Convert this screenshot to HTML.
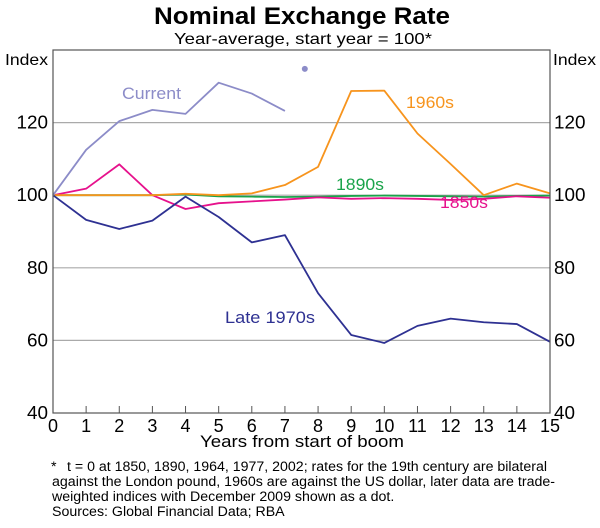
<!DOCTYPE html>
<html><head><meta charset="utf-8"><style>
body{margin:0;background:#fff;}
svg{display:block;font-family:"Liberation Sans",Arial,sans-serif;}
</style></head><body>
<svg id="c" width="600" height="528" viewBox="0 0 600 528">
<text x="154" y="24" font-size="24" font-weight="bold" textLength="296" lengthAdjust="spacingAndGlyphs">Nominal Exchange Rate</text>
<text x="174" y="44" font-size="16" textLength="258" lengthAdjust="spacingAndGlyphs">Year-average, start year = 100*</text>
<text x="5" y="65" font-size="16" textLength="43" lengthAdjust="spacingAndGlyphs">Index</text>
<text x="553" y="65" font-size="16" textLength="43" lengthAdjust="spacingAndGlyphs">Index</text>
<g id="grid"></g><g id="series"></g><g id="axes"></g>
<text x="200" y="447" font-size="17" textLength="204" lengthAdjust="spacingAndGlyphs">Years from start of boom</text>
<g font-size="14.2">
<text x="51" y="471">*</text>
<text x="67" y="471" textLength="480" lengthAdjust="spacingAndGlyphs">t = 0 at 1850, 1890, 1964, 1977, 2002; rates for the 19th century are bilateral</text>
<text x="52" y="486" textLength="503" lengthAdjust="spacingAndGlyphs">against the London pound, 1960s are against the US dollar, later data are trade-</text>
<text x="52" y="501">weighted indices with December 2009 shown as a dot.</text>
<text x="52" y="516">Sources: Global Financial Data; RBA</text>
</g>
</svg>
<script>
const years=[0,1,2,3,4,5,6,7,8,9,10,11,12,13,14,15];
const yTicks=[40,60,80,100,120];
const current=[100,112.5,120.4,123.5,122.4,131,128,123.2];
const currentDot=[7.6,134.8];
const s1960=[100,100,100,100,100.4,100,100.5,102.8,107.8,128.7,128.8,117,108.6,100,103.2,100.5];
const s1850=[100,101.8,108.5,100,96.2,97.8,98.3,98.8,99.4,99,99.2,99,98.7,99,99.7,99.3];
const s1890=[100,100,100,100,100.2,99.7,99.6,99.5,99.6,99.8,99.9,99.8,99.7,99.6,99.8,99.9];
const s1970=[100,93.2,90.7,93,99.6,94,87,89,73,61.5,59.3,64,66,65,64.5,59.6];
const X0=53,X1=550,Y0=413,Y1=50;
const xs=v=>X0+(X1-X0)*v/15, ys=v=>Y0-(Y0-Y1)*(v-40)/100;
const NS='http://www.w3.org/2000/svg';
function mk(t,a,p){const e=document.createElementNS(NS,t);for(const k in a)e.setAttribute(k,a[k]);p.appendChild(e);return e;}
const grid=document.getElementById('grid'),axes=document.getElementById('axes'),ser=document.getElementById('series');
yTicks.forEach(v=>{
 if(v>40){const l=mk('line',{x1:X0,x2:X1,y1:ys(v),y2:ys(v),stroke:'#aaa','stroke-width':1.2},grid);
 
 }
 const w=String(v).length*10.5;
 const a=mk('text',{x:X0-5,y:ys(v)+6,'text-anchor':'end','font-size':18,textLength:w,lengthAdjust:'spacingAndGlyphs'},axes);a.textContent=v;
 
 
 const b=mk('text',{x:X1+4,y:ys(v)+6,'font-size':18,textLength:w,lengthAdjust:'spacingAndGlyphs'},axes);b.textContent=v;
 
 
});
const fr=mk('rect',{x:X0,y:Y1,width:X1-X0,height:Y0-Y1,fill:'none',stroke:'#555','stroke-width':1.2},axes);


years.forEach(v=>{
 mk('line',{x1:xs(v),x2:xs(v),y1:Y0,y2:Y0-7,stroke:'#555'},axes);
 const t=mk('text',{x:xs(v),y:Y0+19,'text-anchor':'middle','font-size':18},axes);t.textContent=v;
 
 
});
function line(d,col,name){
 const p=mk('polyline',{points:d.map((v,i)=>xs(years[i])+','+ys(v)).join(' '),fill:'none',stroke:col,'stroke-width':1.8,'stroke-linejoin':'round'},ser);
 
 
}
line(s1890,'#1aa34a','line-1890s');
line(s1850,'#e6118c','line-1850s');
line(s1960,'#f7941d','line-1960s');
line(s1970,'#2e3192','line-late-1970s');
line(current,'#8c8cc8','line-current');
const dot=mk('circle',{cx:xs(currentDot[0]),cy:ys(currentDot[1]),r:3,fill:'#8c8cc8'},ser);


function lab(x,y,txt,col,w,name){const t=mk('text',{x:x,y:y,'font-size':17,fill:col,textLength:w,lengthAdjust:'spacingAndGlyphs'},ser);t.textContent=txt;
 
 }
lab(122,99,'Current','#8c8cc8',59,'label-current');
lab(406,108,'1960s','#f7941d',48,'label-1960s');
lab(336,190,'1890s','#1aa34a',48,'label-1890s');
lab(440,208,'1850s','#e6118c',48,'label-1850s');
lab(225,323,'Late 1970s','#2e3192',90,'label-late-1970s');
</script>
</body></html>
